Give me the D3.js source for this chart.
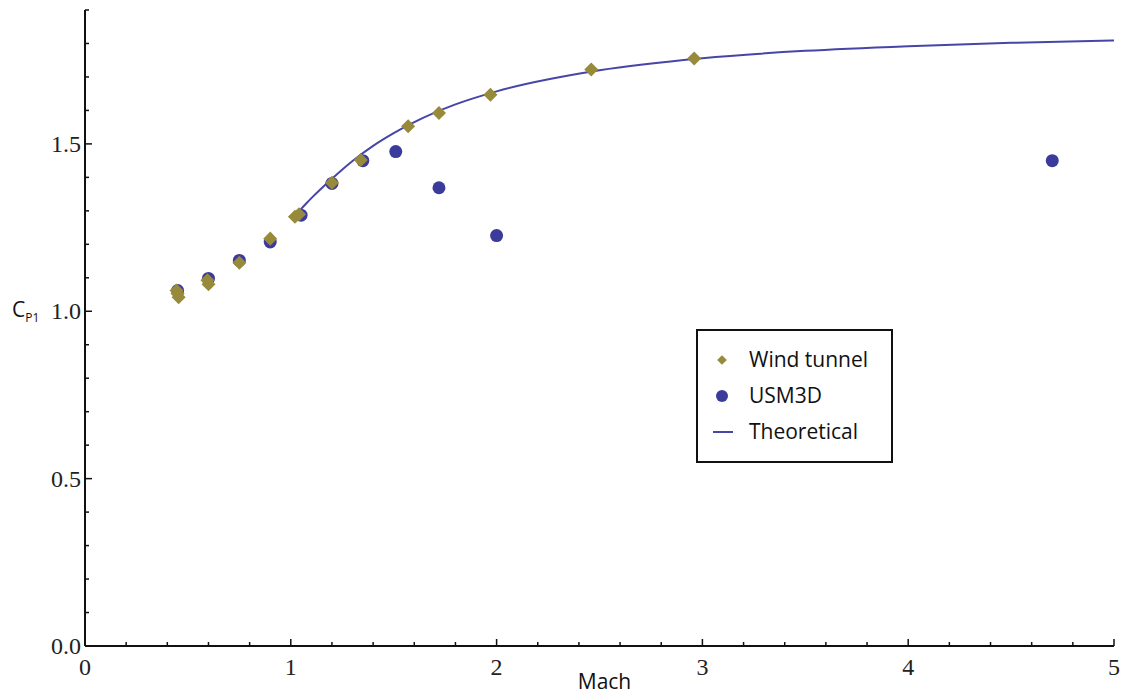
<!DOCTYPE html>
<html>
<head>
<meta charset="utf-8">
<script src="https://cdn.jsdelivr.net/npm/d3@7"></script>
<style>
  body { margin: 0; background: #fff; }
  .tick-label { font-family: "Liberation Serif", "Times New Roman", serif; font-size: 24px; fill: #222; }
  .lbl { font-family: "Open Sans", "Noto Sans", sans-serif; fill: #111; }
</style>
</head>
<body>
<div id="chart"></div>
<script>
// Wind tunnel measurements (Mach, Cp1)
const windMach = [0.445, 0.45, 0.455, 0.595, 0.60, 0.75, 0.90, 1.02, 1.04, 1.20, 1.34, 1.57, 1.72, 1.97, 2.46, 2.96];
const windCp   = [1.062, 1.052, 1.042, 1.093, 1.081, 1.145, 1.217, 1.282, 1.290, 1.384, 1.452, 1.553, 1.592, 1.647, 1.722, 1.755];

// USM3D CFD results
const cfdMach = [0.45, 0.60, 0.75, 0.90, 1.05, 1.20, 1.35, 1.51, 1.72, 2.00, 4.70];
const cfdCp   = [1.062, 1.098, 1.152, 1.207, 1.287, 1.382, 1.450, 1.477, 1.369, 1.226, 1.450];

// Theoretical curve
const theoMach = [1.00, 1.05, 1.10, 1.20, 1.30, 1.40, 1.50, 1.60, 1.80, 2.00, 2.50, 3.00, 3.50, 4.00, 4.50, 5.00];
const theoCp   = [1.276, 1.306, 1.338, 1.396, 1.449, 1.494, 1.532, 1.565, 1.618, 1.657, 1.720, 1.756, 1.778, 1.792, 1.802, 1.809];

const xTicks = [0, 1, 2, 3, 4, 5];
const yTicks = [0.0, 0.5, 1.0, 1.5];

const W = 1122, H = 694;
const margin = { top: 10, right: 8, bottom: 48, left: 85 };

const windColor = '#978a3b';
const cfdColor = '#3b3b9c';
const lineColor = '#4646a8';

const svg = d3.select('#chart').append('svg')
  .attr('width', W)
  .attr('height', H);

const x = d3.scaleLinear().domain([0, 5]).range([margin.left, W - margin.right]);
const y = d3.scaleLinear().domain([0, 1.9]).range([H - margin.bottom, margin.top]);

// axes with inward ticks
const xAxis = svg.append('g').attr('transform', `translate(0,${y(0)})`);
xAxis.append('line')
  .attr('x1', x(0)).attr('x2', x(5))
  .attr('stroke', '#111').attr('stroke-width', 2);
xAxis.selectAll('line.minor')
  .data(d3.range(0, 5.001, 0.2))
  .join('line')
  .attr('class', 'minor')
  .attr('x1', d => x(d)).attr('x2', d => x(d))
  .attr('y1', 0).attr('y2', d => Math.abs(d - Math.round(d)) < 1e-6 ? -7 : -4)
  .attr('stroke', '#111').attr('stroke-width', 1.5);
xAxis.selectAll('text')
  .data(xTicks)
  .join('text')
  .attr('class', 'tick-label')
  .attr('x', d => x(d))
  .attr('y', 29)
  .attr('text-anchor', 'middle')
  .text(d => d);

const yAxis = svg.append('g').attr('transform', `translate(${x(0)},0)`);
yAxis.append('line')
  .attr('y1', y(0)).attr('y2', y(1.9))
  .attr('stroke', '#111').attr('stroke-width', 2);
yAxis.selectAll('line.minor')
  .data(d3.range(0, 1.9001, 0.1))
  .join('line')
  .attr('class', 'minor')
  .attr('y1', d => y(d)).attr('y2', d => y(d))
  .attr('x1', 0).attr('x2', d => Math.abs(d * 2 - Math.round(d * 2)) < 1e-6 ? 7 : 4)
  .attr('stroke', '#111').attr('stroke-width', 1.5);
yAxis.selectAll('text')
  .data(yTicks)
  .join('text')
  .attr('class', 'tick-label')
  .attr('x', -4)
  .attr('y', d => y(d) + 8)
  .attr('text-anchor', 'end')
  .text(d => d3.format('.1f')(d));

// axis titles
svg.append('text')
  .attr('class', 'lbl')
  .attr('x', (x(0) + x(5)) / 2 + 5)
  .attr('y', 689)
  .attr('text-anchor', 'middle')
  .style('font-size', '21px')
  .text('Mach');

const yt = svg.append('text')
  .attr('class', 'lbl')
  .attr('x', 12)
  .attr('y', y(1.0) + 6)
  .style('font-size', '21px');
yt.append('tspan').text('C');
yt.append('tspan').attr('dy', 5).style('font-size', '12px').text('P1');

// theoretical line
const line = d3.line()
  .x((d, i) => x(theoMach[i]))
  .y(d => y(d))
  .curve(d3.curveMonotoneX);

svg.append('path')
  .datum(theoCp)
  .attr('d', line)
  .attr('fill', 'none')
  .attr('stroke', lineColor)
  .attr('stroke-width', 2);

// USM3D circles (drawn beneath diamonds)
svg.append('g').selectAll('circle')
  .data(cfdMach)
  .join('circle')
  .attr('cx', d => x(d))
  .attr('cy', (d, i) => y(cfdCp[i]))
  .attr('r', 6.5)
  .attr('fill', cfdColor);

// wind tunnel diamonds
const diamond = d3.symbol().type(d3.symbolDiamond2).size(125);
svg.append('g').selectAll('path')
  .data(windMach)
  .join('path')
  .attr('d', diamond)
  .attr('transform', (d, i) => `translate(${x(d)},${y(windCp[i])})`)
  .attr('fill', windColor);

// legend
const lg = svg.append('g').attr('transform', 'translate(697,330)');
lg.append('rect')
  .attr('width', 195).attr('height', 132)
  .attr('fill', '#fff').attr('stroke', '#111').attr('stroke-width', 2);

const legendItems = ['Wind tunnel', 'USM3D', 'Theoretical'];
legendItems.forEach((name, i) => {
  const cy = 30 + i * 36;
  if (i === 0) {
    lg.append('path')
      .attr('d', d3.symbol().type(d3.symbolDiamond2).size(60))
      .attr('transform', `translate(25,${cy})`)
      .attr('fill', windColor);
  } else if (i === 1) {
    lg.append('circle').attr('cx', 25).attr('cy', cy).attr('r', 6).attr('fill', cfdColor);
  } else {
    lg.append('line')
      .attr('x1', 16).attr('x2', 36).attr('y1', cy).attr('y2', cy)
      .attr('stroke', lineColor).attr('stroke-width', 2);
  }
  lg.append('text')
    .attr('class', 'lbl')
    .attr('x', 52)
    .attr('y', cy + 7)
    .style('font-size', '21px')
    .text(name);
});
</script>
</body>
</html>
